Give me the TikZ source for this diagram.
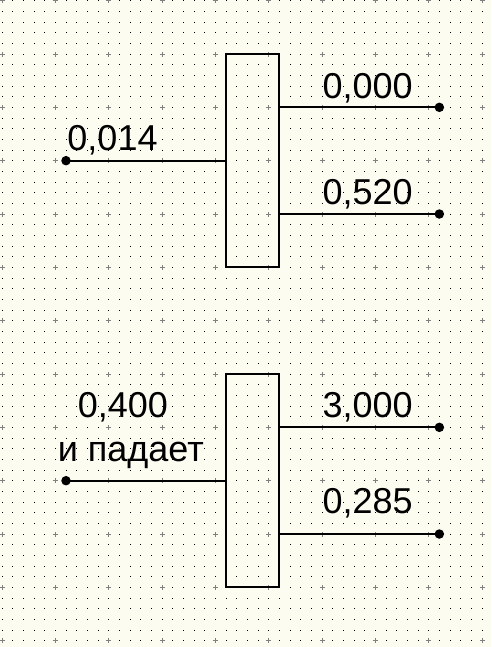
\documentclass[tikz,border=0pt]{standalone}
\usepackage{fontspec}
\setmainfont{Liberation Sans}
\definecolor{bgcream}{RGB}{252,252,240}
\definecolor{plusgray}{RGB}{128,128,128}
\begin{document}
\begin{tikzpicture}[
  wire/.style={line width=2pt, black},
  blockbox/.style={draw=black, line width=2.2pt, fill=none, inner sep=0pt,
    minimum width=53.33pt, minimum height=213.33pt},
  pin/.style={circle, fill=black, inner sep=0pt, minimum size=9.5pt},
  val/.style={font=\fontsize{36}{40}\selectfont, inner sep=0pt, anchor=base, text=black}
]
\useasboundingbox (0pt,0pt) rectangle (491pt,-647pt);
\fill[bgcream] (0pt,0pt) rectangle (491pt,-647pt);
\begin{scope}[shift={(2pt,-0.67pt)}, x=10.667pt, y=-10.667pt]
  % grid dots
  \foreach \i in {0,...,45} {
    \foreach \j in {0,...,60} {
      \fill[black] ([xshift=-0.5pt,yshift=-0.5pt]\i,\j) rectangle ++(1pt,1pt);
    }
  }
  % plus markers
  \foreach \i in {0,5,...,45} {
    \foreach \j in {0,5,...,60} {
      \draw[plusgray, line width=1pt] ([xshift=-2.5pt]\i,\j) -- ++(5pt,0pt)
        ([yshift=-2.5pt]\i,\j) -- ++(0pt,5pt);
    }
  }
  % block 1
  \node[blockbox] (b1) at (23.5,15) {};
  \node[pin] (p1o1) at (41,10) {};
  \node[pin] (p1o2) at (41,20) {};
  \node[pin] (p1i) at (6,15) {};
  \draw[wire] (p1o1.center) -- (p1o1.center -| b1.east);
  \draw[wire] (p1o2.center) -- (p1o2.center -| b1.east);
  \draw[wire] (p1i.center) -- (b1.west);
  \node[val] (t1a) at (34.27,9.16) {0,000};
  \node[val] (t1b) at (34.27,19.09) {0,520};
  \node[val] (t1c) at (10.36,14.0) {0,014};
  % block 2
  \node[blockbox] (b2) at (23.5,45) {};
  \node[pin] (p2o1) at (41,40) {};
  \node[pin] (p2o2) at (41,50) {};
  \node[pin] (p2i) at (6,45) {};
  \draw[wire] (p2o1.center) -- (p2o1.center -| b2.east);
  \draw[wire] (p2o2.center) -- (p2o2.center -| b2.east);
  \draw[wire] (p2i.center) -- (b2.west);
  \node[val] (t2a) at (34.27,39.06) {3,000};
  \node[val] (t2b) at (34.27,48.06) {0,285};
  \node[val] (t2c) at (11.34,39.06) {0,400};
  \node[val] (t2d) at (12.07,43.16) {и падает};
\end{scope}
\end{tikzpicture}
\end{document}
